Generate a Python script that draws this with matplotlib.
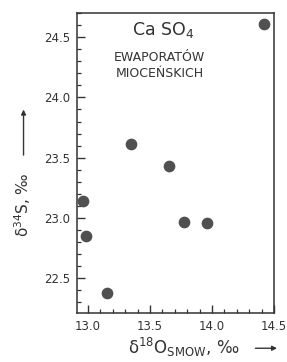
import matplotlib
matplotlib.use("Agg")
import matplotlib.pyplot as plt
from matplotlib.ticker import MultipleLocator

d18O = [14.42, 13.35, 13.65, 12.96, 12.98, 13.77, 13.96, 13.15]
d34S = [24.61, 23.61, 23.43, 23.14, 22.85, 22.97, 22.96, 22.38]
xticks = [13.0, 13.5, 14.0, 14.5]
yticks = [22.5, 23.0, 23.5, 24.0, 24.5]

plt.rcParams['font.family'] = ['DejaVu Sans']
fig = plt.figure(figsize=(2.87, 3.62), dpi=100)
ax = fig.add_axes([0.268, 0.135, 0.687, 0.829])
ax.scatter(d18O, d34S, s=55, color='#505050', zorder=3)
ax.set_xlim(12.91, 14.5)
ax.set_ylim(22.21, 24.7)
ax.set_xticks(xticks)
ax.set_xticklabels([f"{v:.1f}" for v in xticks])
ax.set_yticks(yticks)
ax.set_yticklabels([f"{v:.1f}" for v in yticks])
ax.xaxis.set_minor_locator(MultipleLocator(0.1))
ax.yaxis.set_minor_locator(MultipleLocator(0.1))
ax.tick_params(which='major', direction='in', length=6, width=1, labelsize=8.5, colors='#333333', pad=5)
ax.tick_params(which='minor', direction='in', length=3, width=0.9, colors='#333333')
for sp in ax.spines.values():
    sp.set_linewidth(1.1)
    sp.set_color('#333333')

ax.text(0.437, 0.943, "Ca SO$_4$", transform=ax.transAxes, ha='center', va='center',
        fontsize=12.5, color='#333333')
ax.text(0.42, 0.853, "EWAPORATÓW", transform=ax.transAxes, ha='center', va='center',
        fontsize=9, color='#333333')
ax.text(0.42, 0.797, "MIOCEŃSKICH", transform=ax.transAxes, ha='center', va='center',
        fontsize=9, color='#333333')

fig.text(0.08, 0.434, "δ$^{34}$S, ‰", rotation=90, ha='center', va='center',
         fontsize=11, color='#333333')
fig.text(0.64, 0.04, "δ$^{18}$O$_{\\mathrm{SMOW}}$, ‰", ha='center', va='center',
         fontsize=12, color='#333333')
fig.patches.append(matplotlib.patches.FancyArrowPatch((0.082, 0.564), (0.082, 0.705),
    transform=fig.transFigure, arrowstyle='-|>', mutation_scale=7, color='#333333', lw=1))
fig.patches.append(matplotlib.patches.FancyArrowPatch((0.88, 0.038), (0.975, 0.038),
    transform=fig.transFigure, arrowstyle='-|>', mutation_scale=7, color='#333333', lw=1))

fig.savefig("out.png", dpi=100)
